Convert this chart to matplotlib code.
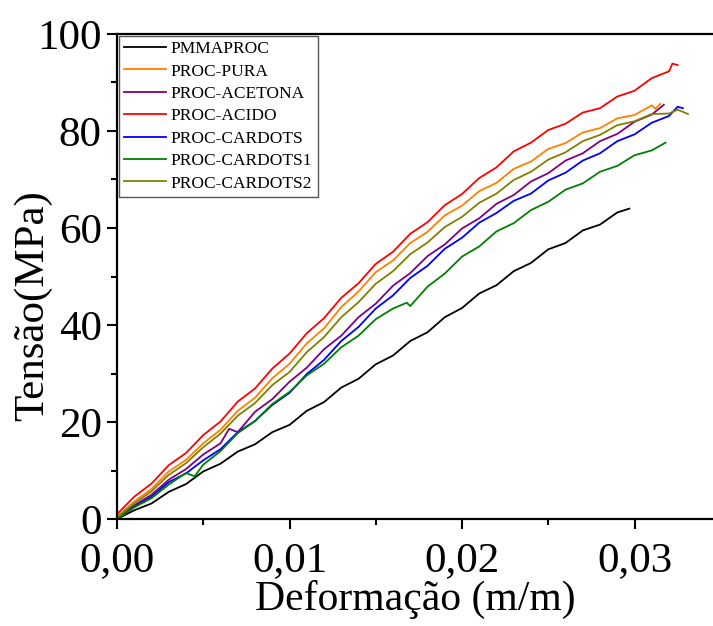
"""Tensile curves (stress vs strain) for PMMA/PROC samples."""
import numpy as np
import matplotlib; matplotlib.use('Agg')
import matplotlib.pyplot as plt
from matplotlib.ticker import MultipleLocator, FuncFormatter

plt.rcParams.update({"font.family": "serif", "font.serif": ["Liberation Serif", "DejaVu Serif"],
                     "mathtext.fontset": "stix"})

# --- data (strain in m/m, stress in MPa) ---
x_red = [0, .001, .002, .003, .004, .005, .006, .007, .008, .009, .010, .011, .012, .013, .014, .015, .016,
         .017, .018, .019, .020, .021, .022, .023, .024, .025, .026, .027, .028, .029, .030, .031, .032, .0322, .0325]
y_red = [1.0, 4.6, 7.3, 11.1, 13.6, 17.3, 20.1, 24.2, 26.9, 31.0, 34.1, 38.3, 41.4, 45.6, 48.6, 52.6, 55.1,
         58.8, 61.2, 64.7, 67.0, 70.3, 72.5, 75.8, 77.6, 80.2, 81.5, 83.8, 84.7, 87.1, 88.3, 90.9, 92.3, 93.9, 93.6]

x_pura = [0, .001, .002, .003, .004, .005, .006, .007, .008, .009, .010, .011, .012, .013, .014, .015, .016,
          .017, .018, .019, .020, .021, .022, .023, .024, .025, .026, .027, .028, .029, .030, .031, .0312, .0315]
y_pura = [0.5, 3.6, 6.2, 9.8, 12.2, 15.6, 18.4, 22.3, 25.0, 29.0, 32.0, 36.2, 39.3, 43.7, 46.9, 50.9, 53.3,
          56.9, 59.2, 62.6, 64.6, 67.6, 69.3, 72.2, 73.7, 76.3, 77.5, 79.7, 80.6, 82.6, 83.3, 85.3, 84.6, 85.6]

x_acet = [0, .001, .002, .003, .004, .005, .006, .0065, .007, .008, .009, .010, .011, .012, .013, .014, .015, .016,
          .017, .018, .019, .020, .021, .022, .023, .024, .025, .026, .027, .028, .029, .030, .031, .0317]
y_acet = [0.2, 2.8, 5.0, 8.1, 10.3, 13.3, 15.6, 18.6, 17.9, 22.1, 24.7, 28.3, 31.2, 35.0, 37.8, 41.6, 44.4, 48.1,
          50.7, 54.2, 56.6, 59.9, 62.0, 65.0, 66.8, 69.6, 71.3, 73.9, 75.4, 77.9, 79.4, 81.9, 83.4, 85.4]

x_acid = x_red
y_acid = y_red

x_card = [0, .001, .002, .003, .004, .005, .006, .007, .008, .009, .010, .011, .012, .013, .014, .015, .016,
          .017, .018, .019, .020, .021, .022, .023, .024, .025, .026, .027, .028, .029, .030, .031, .032, .0325, .0328]
y_card = [0.0, 2.5, 4.6, 7.6, 9.4, 12.1, 14.4, 17.9, 20.2, 23.5, 26.0, 29.9, 32.8, 36.7, 39.6, 43.4, 46.1,
          49.7, 52.2, 55.7, 58.0, 61.1, 63.1, 65.6, 67.1, 69.8, 71.4, 73.9, 75.4, 77.9, 79.3, 81.7, 83.1, 85.0, 84.7]

x_card1 = [0, .001, .002, .003, .004, .0045, .005, .006, .007, .008, .009, .010, .011, .012, .013, .014, .015, .016,
           .0168, .017, .018, .019, .020, .021, .022, .023, .024, .025, .026, .027, .028, .029, .030, .031, .0318]
y_card1 = [0.0, 2.4, 4.3, 7.1, 9.5, 8.8, 11.2, 14.0, 17.7, 20.2, 23.7, 26.2, 29.6, 32.0, 35.4, 37.8, 41.2, 43.4,
           44.6, 43.9, 47.9, 50.6, 54.1, 56.2, 59.3, 61.0, 63.7, 65.4, 67.9, 69.2, 71.6, 72.8, 75.0, 76.0, 77.6]

x_card2 = [0, .001, .002, .003, .004, .005, .006, .007, .008, .009, .010, .011, .012, .013, .014, .015, .016,
           .017, .018, .019, .020, .021, .022, .023, .024, .025, .026, .027, .028, .029, .030, .031, .032, .0325, .0331]
y_card2 = [0.3, 3.2, 5.7, 9.1, 11.5, 14.8, 17.6, 21.3, 23.9, 27.6, 30.3, 34.4, 37.5, 41.6, 44.7, 48.5, 51.1,
           54.6, 57.0, 60.2, 62.3, 65.2, 67.1, 69.9, 71.6, 74.1, 75.6, 77.9, 79.2, 81.2, 82.0, 83.5, 83.6, 84.4, 83.5]

x_pmma = [0, .001, .002, .003, .004, .005, .006, .007, .008, .009, .010, .011, .012, .013, .014, .015, .016,
          .017, .018, .019, .020, .021, .022, .023, .024, .025, .026, .027, .028, .029, .0297]
y_pmma = [0.0, 1.8, 3.2, 5.6, 7.2, 9.8, 11.4, 13.9, 15.4, 17.9, 19.4, 22.3, 24.1, 27.1, 28.9, 31.9, 33.7,
          36.7, 38.5, 41.6, 43.5, 46.5, 48.2, 51.1, 52.8, 55.6, 56.9, 59.5, 60.7, 63.2, 64.0]

series = [
    ("PMMAPROC", x_pmma, y_pmma, "black"),
    ("PROC-PURA", x_pura, y_pura, "#FF8000"),
    ("PROC-ACETONA", x_acet, y_acet, "#800080"),
    ("PROC-ACIDO", x_acid, y_acid, "#FF0000"),
    ("PROC-CARDOTS", x_card, y_card, "#0000FF"),
    ("PROC-CARDOTS1", x_card1, y_card1, "#008000"),
    ("PROC-CARDOTS2", x_card2, y_card2, "#808000"),
]

fig = plt.figure(figsize=(7.13, 6.26), dpi=100)
ax = fig.add_axes([117/713, 1 - 519/626, (713 - 117)/713, (519 - 34)/626])

for name, xs, ys, c in series:
    ax.plot(xs, ys, color=c, lw=1.3, label=name)

ax.set_xlim(0, 0.03455)
ax.set_ylim(0, 100)
ax.xaxis.set_major_locator(MultipleLocator(0.01))
ax.xaxis.set_minor_locator(MultipleLocator(0.005))
ax.yaxis.set_major_locator(MultipleLocator(20))
ax.yaxis.set_minor_locator(MultipleLocator(10))
ax.xaxis.set_major_formatter(FuncFormatter(lambda v, p: f"{v:.2f}".replace(".", ",")))
ax.tick_params(which='major', direction='out', length=7, width=1.5, labelsize=31, pad=4)
ax.tick_params(which='minor', direction='out', length=4, width=1.5)
ax.tick_params(axis='x', which='major', pad=9)
ax.tick_params(top=False, right=False)
for s in ['left', 'bottom', 'top']:
    ax.spines[s].set_linewidth(1.6)
ax.spines['right'].set_visible(False)

ax.set_xlabel('Deformação (m/m)', fontsize=30, labelpad=0)
ax.set_ylabel('Tensão(MPa)', fontsize=31)
ax.yaxis.set_label_coords(-0.108, 0.44)

leg = ax.legend(loc='upper left', bbox_to_anchor=(0, 1), borderaxespad=0.1, fontsize=12.5,
                handlelength=2.4, handletextpad=0.3, labelspacing=0.36, borderpad=0.3,
                fancybox=False, framealpha=1)
leg.get_frame().set_edgecolor('#555555')
leg.get_frame().set_linewidth(1.0)

fig.savefig('out.png', dpi=100, facecolor='white')
plt.close()
